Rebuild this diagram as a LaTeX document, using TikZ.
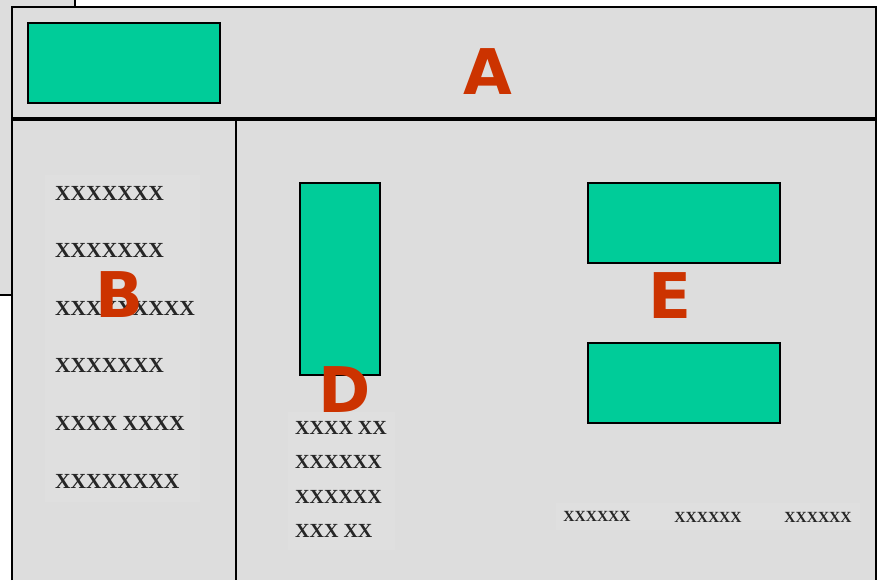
\documentclass[tikz,border=0pt]{standalone}
\usepackage{fontspec}
\newfontfamily\labelfont{DejaVu Sans}
\newfontfamily\itemfont{Liberation Serif}
\definecolor{panelgrey}{HTML}{DDDDDD}
\definecolor{textgrey}{HTML}{DFDFDF}
\definecolor{boxgreen}{HTML}{00CC99}
\definecolor{lettered}{HTML}{CC3300}
\tikzset{
  greenbox/.style={draw=black, line width=2pt, fill=boxgreen, inner sep=0pt},
  bigletter/.style={text=lettered, font=\labelfont\bfseries\fontsize{63}{63}\selectfont, inner sep=0pt},
  itemtext/.style={font=\itemfont\bfseries\fontsize{21.5}{21.5}\selectfont, inner sep=0pt, anchor=west, text=black!85},
  dtext/.style={font=\itemfont\bfseries\fontsize{20}{20}\selectfont, inner sep=0pt, anchor=west, text=black!85},
  smalltext/.style={font=\itemfont\bfseries\fontsize{15.5}{15.5}\selectfont, inner sep=0pt, text=black!85},
  frame/.style={draw=black, line width=2pt},
}
\begin{document}
\begin{tikzpicture}[x=1pt,y=-1pt]
\useasboundingbox (0,0) rectangle (882,580);
% background piece behind
\fill[panelgrey] (0,0) rectangle (75,295);
\draw[frame] (75,0) -- (75,295) -- (0,295);
% main panel
\fill[panelgrey] (12,7) rectangle (876,580);
\draw[frame] (12,580) -- (12,7) -- (876,7) -- (876,580);
\draw[black, line width=3.5pt] (12,119) -- (876,119);
\draw[frame] (236,120) -- (236,580);
% text backgrounds
\fill[textgrey] (45,175) rectangle (200,502);
\fill[textgrey] (288,412) rectangle (395,550);
\fill[textgrey] (556,503) rectangle (860,530);
% green boxes
\node[greenbox, minimum width=192pt, minimum height=80pt] (logo) at (124,63) {};
\node[greenbox, minimum width=80pt, minimum height=192pt] (dbox) at (340,279) {};
\node[greenbox, minimum width=192pt, minimum height=80pt] (etop) at (684,223) {};
\node[greenbox, minimum width=192pt, minimum height=80pt] (ebot) at (684,383) {};
% B list
\node[itemtext] (b1) at (55,193) {XXXXXXX};
\node[itemtext] (b2) at (55,250) {XXXXXXX};
\node[itemtext] (b3) at (55,308) {XXXXXXXXX};
\node[itemtext] (b4) at (55,365) {XXXXXXX};
\node[itemtext] (b5) at (55,423) {XXXX XXXX};
\node[itemtext] (b6) at (55,481) {XXXXXXXX};
% D list
\node[dtext] (d1) at (295,428) {XXXX XX};
\node[dtext] (d2) at (295,462) {XXXXXX};
\node[dtext] (d3) at (295,497) {XXXXXX};
\node[dtext] (d4) at (295,531) {XXX XX};
% bottom items
\node[smalltext] (e1) at (597,516) {XXXXXX};
\node[smalltext] (e2) at (708,517) {XXXXXX};
\node[smalltext] (e3) at (818,517) {XXXXXX};
% letters
\node[bigletter] (A) at (488,72) {A};
\node[bigletter] (B) at (120,295) {B};
\node[bigletter] (D) at (345,390) {D};
\node[bigletter] (E) at (670,296) {E};
\end{tikzpicture}
\end{document}
